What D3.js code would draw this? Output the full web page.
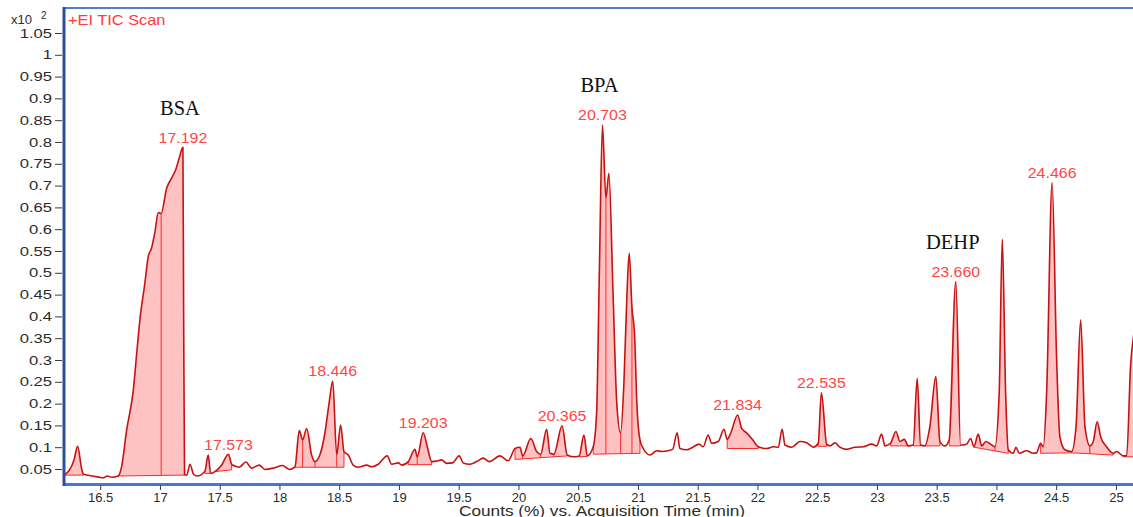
<!DOCTYPE html>
<html>
<head>
<meta charset="utf-8">
<script src="https://cdn.jsdelivr.net/npm/d3@7"></script>
<style>
  html, body { margin: 0; padding: 0; background: #ffffff; }
  svg { display: block; }
</style>
</head>
<body>
<svg id="chart" width="1133" height="517"></svg>
<script>
// Retention time (min) of each sampled point of the TIC trace
const rtMin = [
  16.200, 16.280, 16.311, 16.345, 16.360, 16.414, 16.478, 16.528, 16.558, 16.598,
  16.649, 16.679, 16.721, 16.777, 16.807, 16.832, 16.874, 16.901, 16.930, 16.958,
  16.986, 17.010, 17.056, 17.097, 17.130, 17.160, 17.192, 17.198, 17.206, 17.225,
  17.251, 17.281, 17.311, 17.376, 17.404, 17.424, 17.460, 17.518, 17.573, 17.600,
  17.628, 17.663, 17.719, 17.767, 17.830, 17.879, 17.948, 18.026, 18.082, 18.130,
  18.166, 18.194, 18.228, 18.269, 18.297, 18.338, 18.380, 18.415, 18.446, 18.479,
  18.512, 18.540, 18.576, 18.617, 18.659, 18.730, 18.772, 18.827, 18.902, 18.939,
  18.995, 19.023, 19.078, 19.134, 19.153, 19.203, 19.237, 19.274, 19.316, 19.357,
  19.399, 19.449, 19.504, 19.538, 19.594, 19.650, 19.705, 19.755, 19.845, 19.915,
  19.971, 20.013, 20.035, 20.104, 20.152, 20.186, 20.236, 20.264, 20.297, 20.365,
  20.408, 20.459, 20.509, 20.548, 20.576, 20.626, 20.654, 20.677, 20.703, 20.732,
  20.757, 20.792, 20.823, 20.855, 20.883, 20.908, 20.927, 20.950, 20.972, 20.991,
  21.017, 21.045, 21.101, 21.157, 21.198, 21.290, 21.328, 21.351, 21.412, 21.458,
  21.513, 21.546, 21.588, 21.616, 21.672, 21.720, 21.747, 21.776, 21.834, 21.868,
  21.909, 21.960, 22.007, 22.077, 22.132, 22.174, 22.207, 22.230, 22.287, 22.356,
  22.412, 22.468, 22.509, 22.535, 22.579, 22.607, 22.649, 22.690, 22.746, 22.817,
  22.886, 22.956, 22.998, 23.039, 23.067, 23.114, 23.159, 23.193, 23.229, 23.262,
  23.304, 23.337, 23.365, 23.401, 23.443, 23.493, 23.527, 23.569, 23.605, 23.660,
  23.700, 23.750, 23.784, 23.812, 23.848, 23.876, 23.912, 23.951, 23.987, 24.023,
  24.049, 24.077, 24.099, 24.141, 24.163, 24.191, 24.253, 24.308, 24.336, 24.370,
  24.392, 24.420, 24.466, 24.504, 24.531, 24.573, 24.629, 24.666, 24.705, 24.741,
  24.782, 24.810, 24.843, 24.872, 24.922, 24.978, 25.006, 25.061, 25.090, 25.123,
  25.150, 25.175
];

// Counts (x10^2 %) at each retention time
const counts = [
  0.036, 0.070, 0.102, 0.050, 0.038, 0.035, 0.032, 0.030, 0.034, 0.031,
  0.034, 0.055, 0.139, 0.231, 0.320, 0.392, 0.477, 0.536, 0.557, 0.594,
  0.638, 0.636, 0.694, 0.717, 0.735, 0.762, 0.788, 0.420, 0.037, 0.036,
  0.061, 0.038, 0.034, 0.045, 0.082, 0.040, 0.044, 0.060, 0.084, 0.061,
  0.057, 0.054, 0.066, 0.052, 0.059, 0.049, 0.052, 0.058, 0.049, 0.055,
  0.138, 0.117, 0.143, 0.082, 0.067, 0.082, 0.132, 0.200, 0.252, 0.082,
  0.151, 0.090, 0.082, 0.059, 0.054, 0.059, 0.055, 0.061, 0.080, 0.061,
  0.064, 0.059, 0.067, 0.095, 0.078, 0.133, 0.101, 0.067, 0.068, 0.071,
  0.063, 0.064, 0.080, 0.064, 0.061, 0.067, 0.075, 0.067, 0.080, 0.069,
  0.097, 0.100, 0.080, 0.120, 0.090, 0.084, 0.141, 0.086, 0.084, 0.149,
  0.082, 0.078, 0.080, 0.128, 0.080, 0.101, 0.178, 0.500, 0.839, 0.671,
  0.728, 0.450, 0.200, 0.133, 0.250, 0.450, 0.545, 0.420, 0.357, 0.200,
  0.117, 0.097, 0.082, 0.092, 0.090, 0.095, 0.133, 0.097, 0.094, 0.100,
  0.107, 0.101, 0.128, 0.109, 0.113, 0.141, 0.118, 0.132, 0.174, 0.143,
  0.133, 0.117, 0.101, 0.097, 0.101, 0.100, 0.141, 0.105, 0.100, 0.113,
  0.110, 0.100, 0.109, 0.225, 0.107, 0.103, 0.110, 0.100, 0.095, 0.100,
  0.101, 0.107, 0.103, 0.130, 0.103, 0.109, 0.136, 0.113, 0.118, 0.103,
  0.105, 0.258, 0.105, 0.103, 0.147, 0.262, 0.113, 0.103, 0.117, 0.480,
  0.105, 0.107, 0.120, 0.101, 0.130, 0.103, 0.113, 0.107, 0.101, 0.224,
  0.577, 0.224, 0.094, 0.086, 0.100, 0.086, 0.092, 0.086, 0.087, 0.109,
  0.101, 0.224, 0.707, 0.300, 0.124, 0.094, 0.090, 0.147, 0.392, 0.147,
  0.103, 0.113, 0.158, 0.124, 0.101, 0.086, 0.090, 0.080, 0.080, 0.289,
  0.360, 0.400
];

// Axis ticks
const xTicks = [16.5, 17, 17.5, 18, 18.5, 19, 19.5, 20, 20.5, 21, 21.5, 22, 22.5, 23, 23.5, 24, 24.5, 25];
const yTicks = [0.05, 0.1, 0.15, 0.2, 0.25, 0.3, 0.35, 0.4, 0.45, 0.5, 0.55, 0.6, 0.65, 0.7, 0.75, 0.8, 0.85, 0.9, 0.95, 1, 1.05];

// Labelled peak apexes (min)
const peakRt = [17.192, 17.573, 18.446, 19.203, 20.365, 20.703, 21.834, 22.535, 23.660, 24.466];

// Identified compounds and their apex times
const compoundNames = ["BSA", "BPA", "DEHP"];
const compoundRt = [17.192, 20.703, 23.660];

// Integrated peak windows: start/end time, baseline level at start/end, split drop-lines
const intStart  = [16.200, 16.649, 17.376, 17.460, 18.130, 19.078, 19.971, 20.509, 20.626, 21.747, 22.509, 23.114, 23.304, 23.401, 23.605, 23.812, 24.370, 24.629, 24.782, 25.061];
const intEnd    = [16.360, 17.206, 17.424, 17.600, 18.540, 19.274, 20.408, 20.576, 21.017, 22.007, 22.579, 23.262, 23.365, 23.527, 23.700, 24.099, 24.629, 24.782, 24.978, 25.175];
const intBase0  = [0.036, 0.034, 0.040, 0.044, 0.054, 0.060, 0.072, 0.078, 0.084, 0.097, 0.102, 0.103, 0.103, 0.103, 0.103, 0.100, 0.086, 0.087, 0.085, 0.078];
const intBase1  = [0.036, 0.036, 0.040, 0.048, 0.054, 0.060, 0.080, 0.079, 0.086, 0.097, 0.102, 0.103, 0.103, 0.103, 0.103, 0.086, 0.087, 0.085, 0.082, 0.078];
const intSplits = [[], [17.010], [], [], [18.194, 18.297, 18.479], [19.153], [20.035, 20.186, 20.297], [], [20.732, 20.855, 20.950], [], [], [], [], [], [], [23.987], [], [], [], []];

const svg = d3.select("#chart");
const plot = { left: 64, top: 8, right: 1136, bottom: 484 };

const x = d3.scaleLinear().domain([16.197, 25.168]).range([plot.left, plot.right]);
const y = d3.scaleLinear().domain([0.0156, 1.1073]).range([plot.bottom, plot.top]);

const pts = rtMin.map((t, i) => ({ t, v: counts[i] }));
const valueAt = t => {
  const i = rtMin.findIndex(r => Math.abs(r - t) < 1e-6);
  return counts[i];
};

svg.append("defs").append("clipPath").attr("id", "plotClip")
  .append("rect")
  .attr("x", plot.left).attr("y", plot.top)
  .attr("width", plot.right - plot.left).attr("height", plot.bottom - plot.top);

const g = svg.append("g").attr("clip-path", "url(#plotClip)");

// Integrated areas
intStart.forEach((t0, k) => {
  const t1 = intEnd[k], b0 = intBase0[k], b1 = intBase1[k];
  const base = t => b0 + (b1 - b0) * (t - t0) / (t1 - t0);
  const seg = pts.filter(p => p.t >= t0 - 1e-6 && p.t <= t1 + 1e-6);
  const area = d3.area()
    .curve(d3.curveMonotoneX)
    .x(p => x(p.t))
    .y0(p => y(base(p.t)))
    .y1(p => y(p.v));
  g.append("path").datum(seg)
    .attr("d", area)
    .attr("fill", "#ffc2c2")
    .attr("stroke", "none");
  // baseline
  g.append("line")
    .attr("x1", x(t0)).attr("y1", y(b0))
    .attr("x2", x(t1)).attr("y2", y(b1))
    .attr("stroke", "#ff2a2a").attr("stroke-width", 1);
  // drop-lines at window edges and splits
  [t0, ...intSplits[k], t1].forEach(ts => {
    g.append("line")
      .attr("x1", x(ts)).attr("y1", y(base(ts)))
      .attr("x2", x(ts)).attr("y2", y(valueAt(ts)))
      .attr("stroke", "#ff2a2a").attr("stroke-width", 1);
  });
});

// TIC trace
const line = d3.line()
  .curve(d3.curveMonotoneX)
  .x(p => x(p.t))
  .y(p => y(p.v));
g.append("path").datum(pts)
  .attr("d", line)
  .attr("fill", "none")
  .attr("stroke", "#c71212")
  .attr("stroke-width", 1.6)
  .attr("stroke-linejoin", "round");

// Frame
svg.append("line").attr("x1", plot.left).attr("x2", plot.right + 10)
  .attr("y1", plot.top).attr("y2", plot.top)
  .attr("stroke", "#4f80d0").attr("stroke-width", 2);
svg.append("line").attr("x1", plot.left).attr("x2", plot.right + 10)
  .attr("y1", plot.bottom + 0.5).attr("y2", plot.bottom + 0.5)
  .attr("stroke", "#4a78c8").attr("stroke-width", 3);
svg.append("line").attr("x1", plot.left).attr("x2", plot.left)
  .attr("y1", plot.top - 1).attr("y2", plot.bottom + 2)
  .attr("stroke", "#2c4f9c").attr("stroke-width", 3);

// Y axis
const yScaleX = 1.28;
const yAxis = svg.append("g")
  .attr("transform", `translate(${plot.left - 2},0)`)
  .call(d3.axisLeft(y).tickValues(yTicks).tickSize(7).tickPadding(3)
    .tickFormat(d => String(+d.toFixed(2))));
yAxis.select(".domain").remove();
yAxis.selectAll(".tick line").attr("stroke", "#3a3a3a");
yAxis.selectAll(".tick text")
  .attr("x", -10 / yScaleX)
  .attr("transform", `scale(${yScaleX},1)`)
  .attr("fill", "#2b2b2b")
  .style("font-family", "'Liberation Sans', Arial, sans-serif")
  .style("font-size", "13px");

// X axis
const xAxis = svg.append("g")
  .attr("transform", `translate(0,${plot.bottom + 1})`)
  .call(d3.axisBottom(x).tickValues(xTicks).tickSize(5).tickPadding(2.5)
    .tickFormat(d3.format("~g")));
xAxis.select(".domain").remove();
xAxis.selectAll(".tick line").attr("stroke", "#3a3a3a");
xAxis.selectAll(".tick text")
  .attr("fill", "#2b2b2b")
  .style("font-family", "'Liberation Sans', Arial, sans-serif")
  .style("font-size", "13px");

// Axis title
svg.append("text")
  .attr("transform", "translate(602,516) scale(1.23,1)")
  .attr("text-anchor", "middle")
  .attr("fill", "#2b2b2b")
  .style("font-family", "'Liberation Sans', Arial, sans-serif")
  .style("font-size", "14px")
  .text("Counts (%) vs. Acquisition Time (min)");

// Y multiplier
const mult = svg.append("text")
  .attr("x", 11).attr("y", 24)
  .attr("fill", "#2b2b2b")
  .style("font-family", "'Liberation Sans', Arial, sans-serif")
  .style("font-size", "13px");
mult.append("tspan").text("x10");
mult.append("tspan").attr("x", 41).attr("y", 19).style("font-size", "10px").text("2");

// Scan title
svg.append("text")
  .attr("transform", "translate(68,25) scale(1.17,1)")
  .attr("fill", "#ff3a3a")
  .style("font-family", "'Liberation Sans', Arial, sans-serif")
  .style("font-size", "14px")
  .text("+EI TIC Scan");

// Peak labels
peakRt.forEach(t => {
  svg.append("text")
    .attr("transform", `translate(${x(t)},${y(valueAt(t)) - 4.5}) scale(1.14,1)`)
    .attr("text-anchor", "middle")
    .attr("fill", "#ff4646")
    .style("font-family", "'Liberation Sans', Arial, sans-serif")
    .style("font-size", "14px")
    .text(t.toFixed(3));
});

// Compound names
compoundNames.forEach((name, i) => {
  const t = compoundRt[i];
  svg.append("text")
    .attr("x", x(t) - 3)
    .attr("y", y(valueAt(t)) - 32.5)
    .attr("text-anchor", "middle")
    .attr("fill", "#111111")
    .style("font-family", "'Liberation Serif', 'Times New Roman', serif")
    .style("font-size", "20.5px")
    .text(name);
});
</script>
</body>
</html>
